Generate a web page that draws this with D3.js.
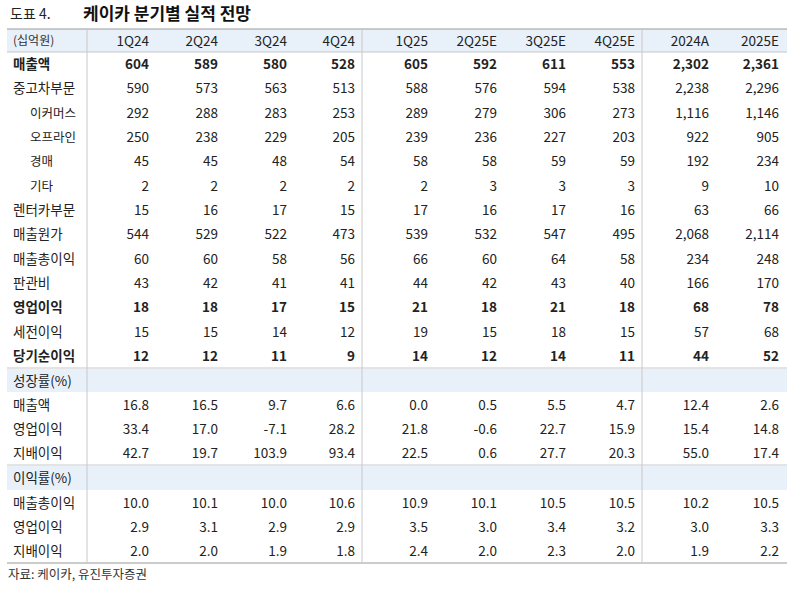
<!DOCTYPE html><html><head><meta charset="utf-8">
<script src="https://cdn.jsdelivr.net/npm/d3@7"></script>
<style>body{margin:0;background:#fff}text{font-family:"Noto Sans CJK KR","Noto Sans",sans-serif}</style></head><body>
<script>
const columns=["1Q24","2Q24","3Q24","4Q24","1Q25","2Q25E","3Q25E","4Q25E","2024A","2025E"];
const labels1=["매출액","중고차부문","이커머스","오프라인","경매","기타","렌터카부문","매출원가","매출총이익","판관비","영업이익","세전이익","당기순이익"];
const indent1=[0,0,1,1,1,1,0,0,0,0,0,0,0];
const bold1=[1,0,0,0,0,0,0,0,0,0,1,0,1];
const values1=[
["604","589","580","528","605","592","611","553","2,302","2,361"],
["590","573","563","513","588","576","594","538","2,238","2,296"],
["292","288","283","253","289","279","306","273","1,116","1,146"],
["250","238","229","205","239","236","227","203","922","905"],
["45","45","48","54","58","58","59","59","192","234"],
["2","2","2","2","2","3","3","3","9","10"],
["15","16","17","15","17","16","17","16","63","66"],
["544","529","522","473","539","532","547","495","2,068","2,114"],
["60","60","58","56","66","60","64","58","234","248"],
["43","42","41","41","44","42","43","40","166","170"],
["18","18","17","15","21","18","21","18","68","78"],
["15","15","14","12","19","15","18","15","57","68"],
["12","12","11","9","14","12","14","11","44","52"]];
const labels2=["매출액","영업이익","지배이익"];
const values2=[
["16.8","16.5","9.7","6.6","0.0","0.5","5.5","4.7","12.4","2.6"],
["33.4","17.0","-7.1","28.2","21.8","-0.6","22.7","15.9","15.4","14.8"],
["42.7","19.7","103.9","93.4","22.5","0.6","27.7","20.3","55.0","17.4"]];
const labels3=["매출총이익","영업이익","지배이익"];
const values3=[
["10.0","10.1","10.0","10.6","10.9","10.1","10.5","10.5","10.2","10.5"],
["2.9","3.1","2.9","2.9","3.5","3.0","3.4","3.2","3.0","3.3"],
["2.0","2.0","1.9","1.8","2.4","2.0","2.3","2.0","1.9","2.2"]];

const svg=d3.select("body").append("svg").attr("width",804).attr("height",591);
const L=7,R=787,fs=13.5;
const rightEdges=[149,218,287,355,428,497,566,635,709,779];
const xr=i=>rightEdges[i];
const blue="#e8f0fa",grid="#c8c8c8";
svg.append("text").attr("x",10).attr("y",19).attr("font-size",14).attr("fill","#222").text("도표 4.");
svg.append("text").attr("x",83).attr("y",20).attr("font-size",17).attr("font-weight","bold").attr("fill","#111").text("케이카 분기별 실적 전망");
// header band
svg.append("rect").attr("x",L).attr("y",29).attr("width",R-L).attr("height",23).attr("fill",blue);
svg.append("text").attr("x",13).attr("y",45).attr("font-size",12).attr("fill","#333").text("(십억원)");
columns.forEach((c,i)=>svg.append("text").attr("x",xr(i)).attr("y",46).attr("text-anchor","end").attr("font-size",fs).attr("fill","#222").text(c));
const y1=d3.scaleBand().domain(d3.range(13)).range([52,368]);
function rows(labels,values,y,ind,bold){
 labels.forEach((l,r)=>{
  const yy=y(r)+y.bandwidth()/2+5;
  svg.append("text").attr("x",ind&&ind[r]?30:13).attr("y",yy).attr("font-size",ind&&ind[r]?12.5:fs).attr("font-weight",bold&&bold[r]?"bold":"normal").attr("fill","#222").text(l);
  values[r].forEach((v,i)=>svg.append("text").attr("x",xr(i)).attr("y",yy).attr("text-anchor","end").attr("font-size",fs).attr("font-weight",bold&&bold[r]?"bold":"normal").attr("fill","#222").text(v));
 });
}
rows(labels1,values1,y1,indent1,bold1);
// section 2
svg.append("rect").attr("x",L).attr("y",369).attr("width",R-L).attr("height",23).attr("fill",blue);
svg.append("text").attr("x",13).attr("y",386).attr("font-size",fs).attr("fill","#222").text("성장률(%)");
rows(labels2,values2,d3.scaleBand().domain(d3.range(3)).range([393,465]));
svg.append("rect").attr("x",L).attr("y",466).attr("width",R-L).attr("height",24).attr("fill",blue);
svg.append("text").attr("x",13).attr("y",483).attr("font-size",fs).attr("fill","#222").text("이익률(%)");
rows(labels3,values3,d3.scaleBand().domain(d3.range(3)).range([491,563]));
// lines
[52,368,465].forEach(y=>svg.append("line").attr("x1",L).attr("x2",R).attr("y1",y).attr("y2",y).attr("stroke",grid));
svg.append("line").attr("x1",L).attr("x2",R).attr("y1",563).attr("y2",563).attr("stroke","#999");
svg.append("line").attr("x1",L).attr("x2",R).attr("y1",29).attr("y2",29).attr("stroke","#999");
[87,362,642].forEach(x=>svg.append("line").attr("x1",x).attr("x2",x).attr("y1",29).attr("y2",563).attr("stroke",grid));
svg.append("text").attr("x",8).attr("y",579).attr("font-size",12.5).attr("fill","#333").text("자료: 케이카, 유진투자증권");
</script></body></html>
